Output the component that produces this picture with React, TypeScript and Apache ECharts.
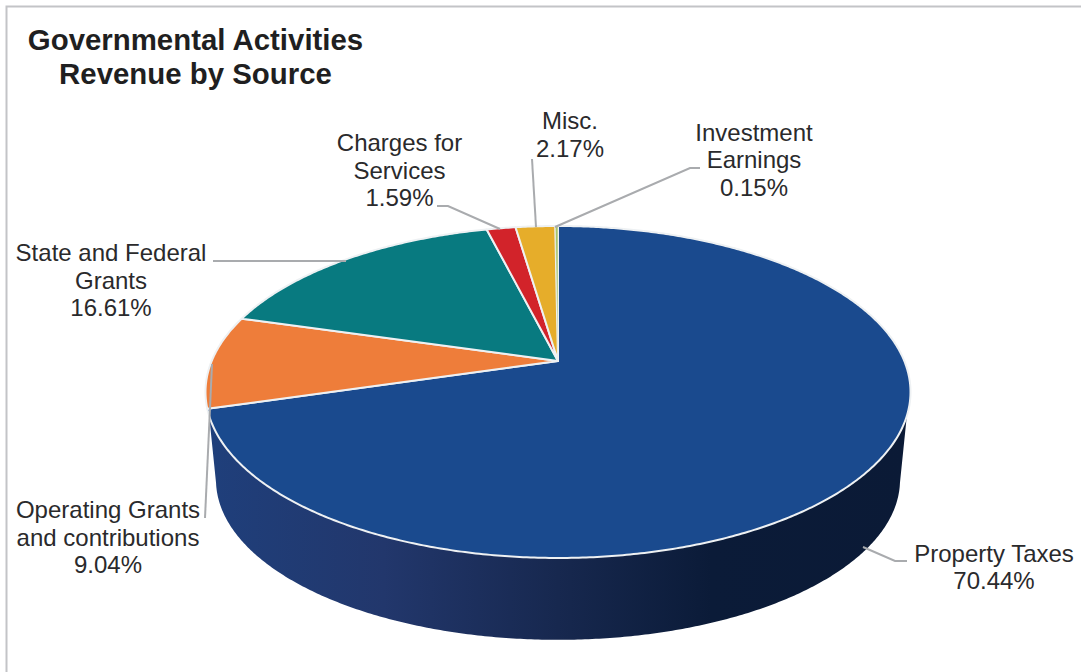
import React, { useEffect, useRef } from "react";
import * as echarts from "echarts";

const sources = [
  "Property Taxes",
  "Operating Grants\nand contributions",
  "State and Federal\nGrants",
  "Charges for\nServices",
  "Misc.",
  "Investment\nEarnings",
];
const shares = [70.44, 9.04, 16.61, 1.59, 2.17, 0.15];
const sliceColors = ["#1a4a8e", "#ee7d3a", "#087a80", "#d2232a", "#e6ad2a", "#a9c46a"];

// Where each label sits, and the leader line that ties it to its slice.
const labelCentres = [
  [994, 567],
  [108, 537],
  [111, 280],
  [399.5, 170],
  [570, 134.5],
  [754, 159.5],
];
const leaders = [
  [[907, 561], [895, 561], [863, 547]],
  [[205, 518], [212, 364]],
  [[213, 261], [346, 261]],
  [[437, 206], [448, 206], [500, 229]],
  [[532, 159], [536, 227]],
  [[700, 168], [690, 168], [555, 227]],
];

// Perspective disc: a unit circle seen from above, nearer edge lower and larger.
type Disc = { cx: number; cy: number; a: number; b: number; k: number };
const topDisc: Disc = { cx: 558, cy: 361, a: 346.3, b: 160.2, k: 0.1867 };
const baseDisc: Disc = { cx: 558, cy: 450, a: 336, b: 154.4, k: 0.1867 };

const project = (d: Disc, deg: number) => {
  const t = (deg * Math.PI) / 180;
  const X = Math.sin(t);
  const Y = -Math.cos(t);
  const w = 1 - d.k * Y;
  return [d.cx + (d.a * X) / w, d.cy + (d.b * Y) / w];
};

const arc = (d: Disc, from: number, to: number) => {
  const steps = Math.max(2, Math.ceil(Math.abs(to - from) * 2));
  const pts: number[][] = [];
  for (let i = 0; i <= steps; i++) pts.push(project(d, from + ((to - from) * i) / steps));
  return pts;
};

// Clockwise angles, from 12 o'clock, over which each rim shows the side of the disc.
const wallTop = [108.8, 251.2];
const wallBase = [101.9, 258.1];

const total = shares.reduce((s, v) => s + v, 0);

const renderSlice = (params: any, api: any) => {
  const i = params.dataIndex;
  const before = shares.slice(0, i).reduce((s, v) => s + v, 0);
  const start = (before / total) * 360;
  const end = ((before + api.value(0)) / total) * 360;
  const children: any[] = [];

  if (i === 0) {
    const wall = [...arc(topDisc, wallTop[0], wallTop[1]), ...arc(baseDisc, wallBase[1], wallBase[0])];
    children.push({
      type: "polygon",
      shape: { points: wall },
      style: {
        fill: new echarts.graphic.LinearGradient(0, 0, 1, 0, [
          { offset: 0, color: "#1f3f7b" },
          { offset: 0.25, color: "#22376c" },
          { offset: 0.5, color: "#17284f" },
          { offset: 0.72, color: "#0b1b38" },
          { offset: 1, color: "#0b1a36" },
        ]),
      },
      silent: true,
    });
  }

  children.push({
    type: "polygon",
    shape: { points: [[topDisc.cx, topDisc.cy], ...arc(topDisc, start, end)] },
    style: { fill: sliceColors[i], stroke: "#eef1f3", lineWidth: i === 5 ? 0.6 : 2, lineJoin: "round" },
  });
  return { type: "group", children };
};

export default function App() {
  const ref = useRef<HTMLDivElement>(null);

  useEffect(() => {
    const chart = echarts.init(ref.current!, undefined, { renderer: "svg" });
    const fontFamily = '"Liberation Sans", Arial, sans-serif';
    chart.setOption({
      animation: false,
      backgroundColor: "#ffffff",
      title: {
        text: "Governmental Activities\nRevenue by Source",
        left: 190.5,
        top: 17,
        textAlign: "center",
        textStyle: { fontFamily, fontSize: 29.4, fontWeight: "bold", color: "#1f1f21", lineHeight: 34 },
      },
      series: [
        {
          type: "custom",
          coordinateSystem: "none",
          renderItem: renderSlice,
          data: sources.map((name, i) => ({ name: name.replace("\n", " "), value: shares[i] })),
          clip: false,
          z: 2,
        },
      ],
      graphic: {
        elements: [
          {
            type: "polyline",
            shape: { points: [[6.5, 672], [6.5, 6.5], [1081, 6.5]] },
            style: { stroke: "#c3c4c7", lineWidth: 2, fill: "none" },
            z: 1,
          },
          ...leaders.map((points) => ({
            type: "polyline",
            shape: { points },
            style: { stroke: "#a9abae", lineWidth: 2, fill: "none" },
            z: 10,
          })),
          ...sources.map((name, i) => ({
            type: "text",
            x: labelCentres[i][0],
            y: labelCentres[i][1],
            z: 11,
            style: {
              text: `${name}\n${shares[i].toFixed(2)}%`,
              fill: "#2a2a2c",
              font: `24px ${fontFamily}`,
              lineHeight: 27.5,
              align: "center",
              verticalAlign: "middle",
            },
          })),
        ],
      },
    });
    return () => chart.dispose();
  }, []);

  return (
    <div
      ref={ref}
      style={{ position: "absolute", left: 0, top: 0, width: 1081, height: 672 }}
    />
  );
}
